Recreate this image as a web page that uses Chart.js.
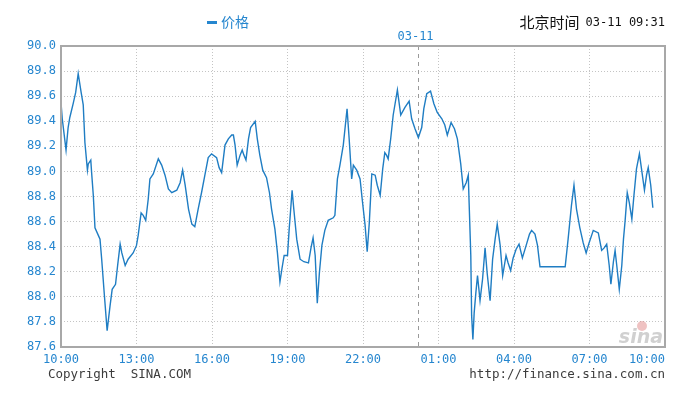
<!DOCTYPE html>
<html>
<head>
<meta charset="utf-8">
<script src="https://cdn.jsdelivr.net/npm/chart.js@4.4.0/dist/chart.umd.min.js"></script>
<style>
  html, body { margin: 0; padding: 0; background: #fff; }
  canvas { display: block; }
</style>
</head>
<body>
<canvas id="priceChart" width="683" height="397"></canvas>
<script>
// minutes after 10:00 (03-10) and price at that moment
const times = [
  0, 3, 12, 17, 21, 29, 35, 41, 48, 53, 57, 63, 65, 71, 73, 77, 81, 89, 93, 97,
  103, 110, 117, 122, 130, 135, 141, 145, 153, 160, 172, 180, 184, 191, 196, 202, 208, 212, 220, 232,
  240, 248, 256, 264, 276, 284, 290, 296, 304, 312, 319, 327, 335, 343, 351, 359, 371, 377, 383, 391,
  399, 407, 411, 415, 420, 427, 432, 436, 441, 447, 452, 463, 468, 474, 481, 490, 497, 502, 510, 516,
  522, 527, 532, 540, 544, 551, 555, 562, 570, 579, 590, 596, 601, 606, 611, 616, 622, 629, 637, 649,
  653, 659, 665, 673, 682, 687, 693, 697, 705, 713, 719, 725, 730, 735, 741, 749, 754, 761, 767, 772,
  776, 780, 786, 792, 802, 810, 820, 830, 836, 844, 852, 860, 865, 872, 881, 889, 897, 908, 915, 921,
  930, 938, 945, 953, 959, 966, 971, 973, 977, 979, 982, 985, 989, 993, 999, 1005, 1011, 1016, 1023, 1029,
  1035, 1040, 1047, 1053, 1061, 1066, 1072, 1078, 1085, 1092, 1100, 1109, 1117, 1122, 1130, 1136, 1142, 1202, 1209, 1217,
  1223, 1229, 1237, 1245, 1252, 1259, 1269, 1281, 1289, 1295, 1301, 1307, 1311, 1317, 1321, 1325, 1331, 1337, 1341, 1345,
  1350, 1355, 1361, 1366, 1372, 1379, 1384, 1391, 1396, 1400, 1406, 1411
];
const prices = [
  89.55, 89.42, 89.17, 89.35, 89.43, 89.54, 89.63, 89.78, 89.63, 89.53, 89.23, 89.01, 89.06, 89.09, 88.99, 88.81, 88.55, 88.49, 88.46, 88.30,
  88.03, 87.73, 87.93, 88.06, 88.10, 88.25, 88.42, 88.35, 88.25, 88.30, 88.35, 88.41, 88.49, 88.67, 88.65, 88.61, 88.78, 88.94, 88.98, 89.10,
  89.05, 88.97, 88.86, 88.83, 88.85, 88.91, 89.01, 88.89, 88.70, 88.58, 88.56, 88.70, 88.83, 88.97, 89.11, 89.14, 89.11, 89.03, 88.99, 89.21,
  89.26, 89.29, 89.29, 89.21, 89.05, 89.13, 89.17, 89.13, 89.09, 89.26, 89.35, 89.40, 89.26, 89.13, 89.01, 88.95, 88.83, 88.70, 88.54, 88.35,
  88.12, 88.23, 88.33, 88.33, 88.54, 88.85, 88.70, 88.46, 88.30, 88.28, 88.27, 88.39, 88.47, 88.33, 87.95, 88.19, 88.41, 88.53, 88.61, 88.63,
  88.65, 88.94, 89.05, 89.21, 89.50, 89.26, 88.94, 89.05, 89.01, 88.94, 88.75, 88.57, 88.36, 88.59, 88.98, 88.97, 88.89, 88.81, 89.02, 89.15,
  89.13, 89.10, 89.26, 89.45, 89.65, 89.45, 89.51, 89.56, 89.42, 89.34, 89.27, 89.35, 89.50, 89.62, 89.64, 89.54, 89.47, 89.42, 89.37, 89.29,
  89.39, 89.34, 89.26, 89.06, 88.86, 88.91, 88.97, 88.75, 88.33, 87.85, 87.66, 87.87, 88.03, 88.17, 87.97, 88.14, 88.39, 88.19, 87.97, 88.30,
  88.46, 88.58, 88.41, 88.17, 88.33, 88.27, 88.21, 88.31, 88.38, 88.42, 88.31, 88.41, 88.50, 88.53, 88.50, 88.41, 88.24, 88.24, 88.46, 88.73,
  88.89, 88.70, 88.55, 88.43, 88.35, 88.43, 88.53, 88.51, 88.37, 88.39, 88.42, 88.25, 88.10, 88.28, 88.37, 88.25, 88.06, 88.25, 88.46, 88.61,
  88.83, 88.75, 88.62, 88.81, 89.02, 89.14, 89.02, 88.85, 88.97, 89.03, 88.89, 88.71
];
const xTickLabels = ['10:00', '13:00', '16:00', '19:00', '22:00', '01:00', '04:00', '07:00', '10:00'];
const dayMark = 850;          // where the 03-11 divider sits
const dayLabel = '03-11';
const seriesName = '价格';
const headerTime = '北京时间';
const headerStamp = '03-11 09:31';

const BLUE = '#2586cf';
const LINE = '#1f7dc3';
const MONO = '"DejaVu Sans Mono", monospace';

// everything the library doesn't draw by itself
const decorPlugin = {
  id: 'decor',
  beforeDatasetsDraw(chart) {
    const { ctx, chartArea: a, scales } = chart;
    // dashed day divider
    const dx = Math.round(scales.x.getPixelForValue(dayMark)) + 0.5;
    ctx.save();
    ctx.strokeStyle = '#9a9a9a';
    ctx.lineWidth = 1;
    ctx.setLineDash([4, 4]);
    ctx.beginPath();
    ctx.moveTo(dx, a.top);
    ctx.lineTo(dx, a.bottom);
    ctx.stroke();
    ctx.restore();
  },
  afterDraw(chart) {
    const { ctx, chartArea: a, scales } = chart;
    ctx.save();

    // frame
    ctx.strokeStyle = '#a8a8a8';
    ctx.lineWidth = 2;
    ctx.strokeRect(a.left, a.top, a.right - a.left, a.bottom - a.top);

    // x tick labels, last one kept inside the frame
    ctx.font = '12px ' + MONO;
    ctx.fillStyle = BLUE;
    ctx.textBaseline = 'middle';
    xTickLabels.forEach((lab, i) => {
      const px = scales.x.getPixelForValue(i * 180);
      ctx.textAlign = i === xTickLabels.length - 1 ? 'right' : 'center';
      ctx.fillText(lab, i === xTickLabels.length - 1 ? a.right : px, 360);
    });

    // day label above divider
    ctx.textAlign = 'center';
    ctx.fillText(dayLabel, scales.x.getPixelForValue(dayMark) - 2, 37);

    // legend
    ctx.fillRect(207, 21, 10, 3);
    ctx.textAlign = 'left';
    ctx.font = '14px "Noto Sans CJK SC"';
    ctx.fillText(seriesName, 221, 22);

    // header at right
    ctx.fillStyle = '#111';
    ctx.font = '12px ' + MONO;
    ctx.textAlign = 'right';
    ctx.fillText(headerStamp, a.right, 23);
    const stampW = ctx.measureText(headerStamp).width;
    ctx.font = '15px "Noto Sans CJK SC"';
    ctx.fillText(headerTime, a.right - stampW - 6, 22);

    // footer
    ctx.fillStyle = '#3c3c3c';
    ctx.font = '12.5px ' + MONO;
    ctx.textAlign = 'left';
    ctx.fillText('Copyright  SINA.COM', 48, 375);
    ctx.textAlign = 'right';
    ctx.fillText('http://finance.sina.com.cn', a.right, 375);

    // faint watermark
    ctx.fillStyle = 'rgba(220,120,120,0.45)';
    ctx.beginPath();
    ctx.arc(642, 326, 5, 0, Math.PI * 2);
    ctx.fill();
    ctx.fillStyle = 'rgba(150,150,150,0.45)';
    ctx.font = 'italic bold 19px "DejaVu Sans"';
    ctx.textAlign = 'right';
    ctx.textBaseline = 'alphabetic';
    ctx.fillText('sina', a.right - 2, a.bottom - 4);
    ctx.restore();
  }
};

const points = times.map((t, i) => ({ x: t, y: prices[i] }));

new Chart(document.getElementById('priceChart'), {
  type: 'line',
  data: {
    datasets: [{
      label: seriesName,
      data: points,
      borderColor: LINE,
      borderWidth: 1.4,
      pointRadius: 0,
      tension: 0,
      fill: false
    }]
  },
  options: {
    responsive: false,
    animation: false,
    devicePixelRatio: 1,
    layout: { padding: { top: 46, right: 18, left: 0, bottom: 0 } },
    plugins: {
      legend: { display: false },
      tooltip: { enabled: false }
    },
    scales: {
      x: {
        type: 'linear',
        min: 0,
        max: 1440,
        ticks: { stepSize: 180, display: false },
        grid: { color: '#c4c4c4', drawTicks: false },
        border: { display: false, dash: [1, 2] },
        afterFit(scale) { scale.height = 50; }
      },
      y: {
        min: 87.6,
        max: 90.0,
        ticks: {
          stepSize: 0.2,
          color: BLUE,
          padding: 5,
          font: { family: MONO, size: 12 },
          callback: v => v.toFixed(1)
        },
        grid: { color: '#c4c4c4', drawTicks: false },
        border: { display: false, dash: [1, 2] },
        afterFit(scale) { scale.width = 61; }
      }
    }
  },
  plugins: [decorPlugin]
});
</script>
</body>
</html>
